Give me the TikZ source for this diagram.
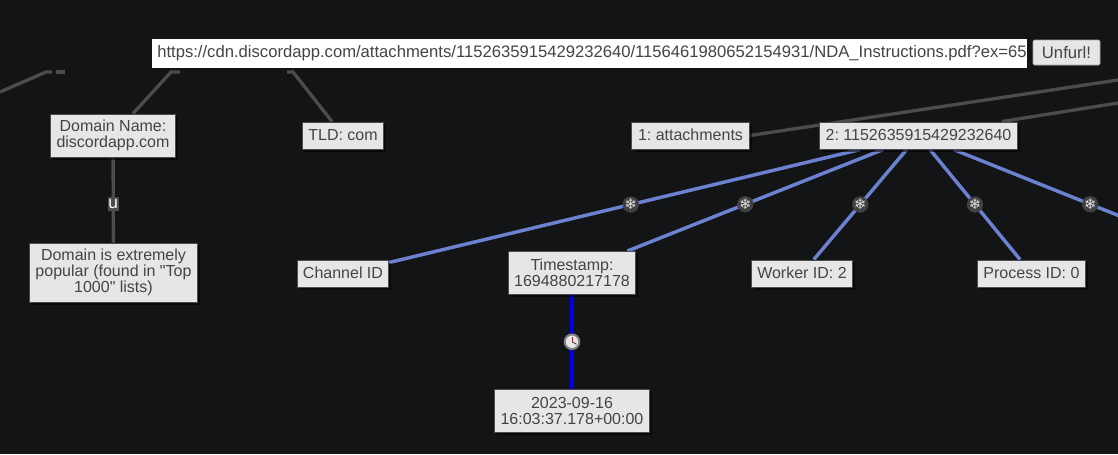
\documentclass[tikz,border=0pt]{standalone}
\usepackage{fontspec}
\setmainfont{Liberation Sans}
\newfontfamily\boxfont{Liberation Sans}
\newfontfamily\symfont{DejaVu Sans}
\usetikzlibrary{shadows,calc,backgrounds}
\definecolor{bgc}{HTML}{121416}
\definecolor{boxc}{HTML}{E6E6E6}
\definecolor{inkc}{HTML}{444444}
\definecolor{edgeg}{HTML}{4C4C4C}
\definecolor{edgeb}{HTML}{6C82D0}
\definecolor{edgeq}{HTML}{0000E6}
\tikzset{
  infobox/.style={draw=edgeg,line width=.75pt,fill=boxc,text=inkc,font=\boxfont\frenchspacing\fontsize{12}{12}\selectfont,
    align=center,inner sep=0pt,
    general shadow={fill=black,opacity=.55,shadow xshift=2.2pt,shadow yshift=-2.2pt}},
  oneline/.style={infobox,text height=9pt,text depth=2pt,minimum height=20.25pt},
  greyline/.style={draw=edgeg,line width=2.5pt},
  blueline/.style={draw=edgeb,line width=2.6pt},
  timeline/.style={draw=edgeq,line width=3pt},
  flakeicon/.style={circle,fill=edgeg!85!black,inner sep=0pt,minimum size=11.5pt,text=boxc,
    font=\symfont\fontsize{11}{11}\selectfont},
}
\begin{document}
\begin{tikzpicture}[x=0.75pt,y=-0.75pt]
\useasboundingbox (0,0) rectangle (1118,454);
% free ends
\coordinate (leftend) at (0,92);
\coordinate (lefttop) at (46,72);
\coordinate (stuba) at (56,72);
\coordinate (stubb) at (65,72);
\coordinate (domtop) at (171,72);
\coordinate (tldtop) at (293,72);
\coordinate (offa) at (1118,80);
\coordinate (offb) at (1118,103);
\coordinate (offc) at (1262,273);
% nodes
\node[infobox,minimum width=93.75pt,minimum height=32.25pt] (dom) at (113,135.5) {Domain Name:\\discordapp.com};
\node[infobox,minimum width=126pt,minimum height=44.25pt] (pop) at (113.5,272.5) {Domain is extremely\\popular (found in "Top\\1000" lists)};
\node[oneline,minimum width=60.75pt] (tld) at (343,135.5) {TLD: com};
\node[oneline,minimum width=88.5pt] (att) at (690.5,135.5) {1: attachments};
\node[oneline,minimum width=148.5pt] (snow) at (918.5,135.5) {2: 1152635915429232640};
\node[oneline,minimum width=68.25pt] (chan) at (343,273.5) {Channel ID};
\node[infobox,minimum width=95.25pt,minimum height=32.25pt] (ts) at (572,273) {Timestamp:\\1694880217178};
\node[oneline,minimum width=75.75pt] (work) at (802,273.5) {Worker ID: 2};
\node[oneline,minimum width=81pt] (proc) at (1031.5,273.5) {Process ID: 0};
\node[infobox,minimum width=116.25pt,minimum height=32.25pt] (date) at (572,410.5) {2023-09-16\\16:03:37.178+00:00};
% connectors, behind the nodes
\begin{scope}[on background layer]
\fill[bgc] (0,0) rectangle (1118,454);
\draw[greyline] (leftend) -- (lefttop) -- ++(6,0);
\draw[greyline] (stuba) -- (stubb);
\draw[greyline] (dom) -- (domtop) -- ++(9,0);
\draw[greyline] (tld) -- (tldtop) -- ++(-6,0);
\draw[greyline] (att.east) -- (offa);
\draw[greyline] (snow.north east) ++(-16,0) -- (offb);
\draw[greyline] (dom) -- (pop);
\draw[blueline] (snow) -- (chan);
\draw[blueline] (snow) -- (ts);
\draw[blueline] (snow) -- (work);
\draw[blueline] (snow) -- (proc);
\draw[blueline] (snow) -- (offc);
\draw[timeline] (ts) -- (date);
\end{scope}
% icons
\node[flakeicon] (f1) at ($(snow)!.5!(chan)$) {❄};
\node[flakeicon] (f2) at ($(snow)!.5!(ts)$) {❄};
\node[flakeicon] (f3) at ($(snow)!.5!(work)$) {❄};
\node[flakeicon] (f4) at ($(snow)!.5!(proc)$) {❄};
\node[flakeicon] (f5) at ($(snow)!.5!(offc)$) {❄};
\node[fill=edgeg,text=white,inner sep=0pt,minimum width=8pt,minimum height=10pt,font=\boxfont\fontsize{13}{13}\selectfont] (u) at ($(dom)!.5!(pop)$) {u};
\node[circle,fill=boxc,draw=gray,line width=1.5pt,inner sep=0pt,minimum size=11pt] (clk) at ($(ts)!.5!(date)$) {};
\draw[inkc,line width=.7pt] (clk.center) -- ++(4.5,2.5);
\draw[red!45!inkc,line width=.6pt] (clk.center) -- ++(0,-5);
% url bar
\node[fill=white,minimum width=656.25pt,minimum height=21.75pt,inner sep=0pt,anchor=west] (url) at (152,53) {};
\begin{scope}
\clip (152,38) rectangle (1027,68);
\node[anchor=west,inner sep=0pt,font=\fontsize{12.48}{12.48}\selectfont,text=inkc] (urltext) at (157,53) {https://cdn.discordapp.com/attachments/1152635915429232640/1156461980652154931/NDA\_Instructions.pdf?ex=65};
\end{scope}
\node[draw=gray!70,line width=.5pt,fill=boxc,rounded corners=1pt,text=inkc,font=\fontsize{12.5}{12.5}\selectfont,inner sep=0pt,minimum width=50.25pt,minimum height=18.75pt] (btn) at (1066.5,52.5) {Unfurl!};
\end{tikzpicture}
\end{document}
